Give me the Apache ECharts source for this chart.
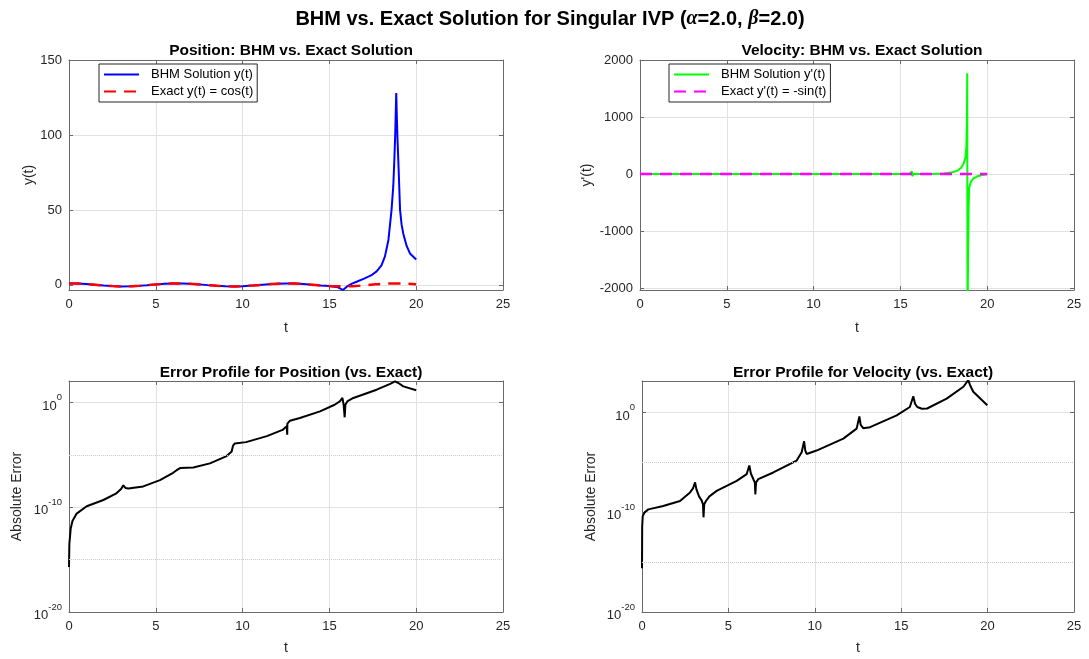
<!DOCTYPE html>
<html>
<head>
<meta charset="utf-8">
<title>BHM vs. Exact Solution</title>
<script src="https://cdn.jsdelivr.net/npm/echarts@6/dist/echarts.min.js"></script>
<style>
  html, body { margin: 0; padding: 0; background: #fff; }
  #chart { width: 1089px; height: 659px; }
</style>
</head>
<body>
<div id="chart"></div>
<script>
// exact solution sampled on a coarse grid
const tExact = [0, 0.5, 1, 1.5, 2, 2.5, 3, 3.5, 4, 4.5, 5, 5.5, 6, 6.5, 7, 7.5, 8, 8.5, 9, 9.5, 10,
  10.5, 11, 11.5, 12, 12.5, 13, 13.5, 14, 14.5, 15, 15.5, 16, 16.5, 17, 17.5, 18, 18.5, 19, 19.5, 20]
const yExact = [1.00, 0.88, 0.54, 0.07, -0.42, -0.80, -0.99, -0.94, -0.65, -0.21, 0.28, 0.71, 0.96, 0.98,
  0.75, 0.35, -0.15, -0.60, -0.91, -1.00, -0.84, -0.48, 0.00, 0.48, 0.84, 1.00, 0.91, 0.59, 0.14, -0.36,
  -0.76, -0.98, -0.96, -0.70, -0.28, 0.22, 0.66, 0.95, 0.99, 0.77, 0.41]
const dyExact = [0.00, -0.48, -0.84, -1.00, -0.91, -0.60, -0.14, 0.35, 0.76, 0.98, 0.96, 0.71, 0.28, -0.22,
  -0.66, -0.94, -0.99, -0.80, -0.41, 0.08, 0.54, 0.88, 1.00, 0.88, 0.54, 0.07, -0.42, -0.80, -0.99, -0.93,
  -0.65, -0.20, 0.29, 0.71, 0.96, 0.98, 0.75, 0.34, -0.15, -0.60, -0.91]

// BHM position
const tPosBhm = [0, 0.5, 1, 1.5, 2, 2.5, 3, 3.5, 4, 4.5, 5, 5.5, 6, 6.5, 7, 7.5, 8, 8.5, 9, 9.5, 10,
  10.5, 11, 11.5, 12, 12.5, 13, 13.5, 14, 14.5, 15, 15.5, 15.78, 16.0, 16.3, 16.6, 17.0, 17.4, 17.72,
  18.0, 18.2, 18.4, 18.58, 18.68, 18.74, 18.79, 18.82, 18.85, 18.88, 18.92, 18.97, 19.07, 19.16,
  19.26, 19.45, 19.64, 19.82, 20]
const yPosBhm = [1.00, 0.88, 0.54, 0.07, -0.42, -0.80, -0.99, -0.94, -0.65, -0.21, 0.28, 0.71, 0.96, 0.98,
  0.75, 0.35, -0.15, -0.60, -0.91, -1.00, -0.84, -0.48, 0.00, 0.48, 0.84, 1.00, 0.91, 0.59, 0.14, -0.36,
  -0.76, -1.6, -3.4, -1.2, 0.9, 2.3, 4.2, 6.3, 9, 13, 19, 30, 50, 66, 83, 100, 114, 128, 114, 98, 83, 50,
  40, 34, 26, 21, 19, 17]

// BHM velocity
const tVelBhm = [0, 0.5, 1, 1.5, 2, 2.5, 3, 3.5, 4, 4.5, 5, 5.5, 6, 6.5, 7, 7.5, 8, 8.5, 9, 9.5, 10,
  10.5, 11, 11.5, 12, 12.5, 13, 13.5, 14, 14.5, 15, 15.5, 15.66, 15.7, 15.74, 16, 16.5, 17, 17.5, 18,
  18.3, 18.5, 18.65, 18.75, 18.8, 18.83, 18.85, 18.865, 18.9, 18.93, 18.96, 19.05, 19.2, 19.4, 19.6, 19.8, 20]
const yVelBhm = [0.00, -0.48, -0.84, -1.00, -0.91, -0.60, -0.14, 0.35, 0.76, 0.98, 0.96, 0.71, 0.28, -0.22,
  -0.66, -0.94, -0.99, -0.80, -0.41, 0.08, 0.54, 0.88, 1.00, 0.88, 0.54, 0.07, -0.42, -0.80, -0.99, -0.93,
  -0.65, -0.20, 45, -40, 0, 0.3, 1.5, 4, 10, 30, 60, 110, 190, 300, 480, 900, 1767, -2600, -1400, -600,
  -250, -140, -80, -45, -25, -12, -5]

// absolute errors, log10 of the value
const tErrPos = [0, 0.02, 0.1, 0.2, 0.44, 1.02, 1.98, 2.7, 3.0, 3.13, 3.25, 3.42, 4.28, 5.24, 6.0, 6.2,
  6.3, 6.4, 7.16, 8.12, 9.08, 9.37, 9.45, 9.55, 10.2, 11.4, 12.3, 12.54, 12.57, 12.58, 12.6, 12.73, 13.3,
  14.46, 15.3, 15.6, 15.75, 15.82, 15.88, 15.92, 16.05, 16.38, 17.72, 18.5, 18.78, 18.85, 18.95, 19.26, 20]
const errPosLog = [-15.7, -13.5, -12.0, -11.3, -10.6, -9.9, -9.3, -8.7, -8.25, -7.9, -8.15, -8.2, -8.0,
  -7.4, -6.7, -6.45, -6.3, -6.25, -6.2, -5.8, -5.1, -4.66, -4.1, -3.9, -3.77, -3.2, -2.6, -2.25, -3.06,
  -2.0, -1.85, -1.72, -1.47, -0.83, -0.2, 0.13, 0.45, -0.2, -1.4, -0.2, 0.15, 0.45, 1.24, 1.8, 2.04, 2.1,
  1.9, 1.56, 1.18]
const tErrVel = [0, 0.01, 0.04, 0.15, 0.37, 1.23, 2.2, 2.78, 2.95, 3.07, 3.15, 3.3, 3.45, 3.53, 3.56, 3.6,
  3.7, 3.9, 4.32, 5.48, 6.06, 6.21, 6.3, 6.45, 6.53, 6.56, 6.6, 6.73, 7.6, 8.95, 9.24, 9.38, 9.45, 9.53,
  10.1, 11.65, 12.42, 12.58, 12.65, 12.8, 13.2, 14.74, 15.5, 15.7, 15.8, 15.93, 16.2, 16.5, 17.63, 18.6,
  18.88, 19.0, 19.17, 19.98]
const errVelLog = [-15.6, -11.5, -10.4, -10.0, -9.7, -9.36, -8.86, -8.0, -7.6, -7.0, -7.7, -8.4, -8.8,
  -9.2, -10.5, -9.2, -8.86, -8.4, -7.85, -6.84, -6.16, -5.3, -6.1, -6.7, -7.0, -8.2, -7.0, -6.67, -6.0,
  -4.8, -3.97, -2.86, -3.8, -4.14, -3.8, -2.6, -1.6, -0.37, -1.2, -1.55, -1.45, -0.27, 0.57, 1.65, 0.9,
  0.57, 0.4, 0.42, 1.41, 2.6, 3.27, 2.7, 2.1, 0.74]

// tick labels
const xTicks = [0, 5, 10, 15, 20, 25]
const posTicks = [0, 50, 100, 150]
const velTicks = [-2000, -1000, 0, 1000, 2000]
const logTicks = [-20, -10, 0]

const FONT = 'Liberation Sans, Arial, sans-serif'
const TXT = '#262626'
const BOX = '#6a6a6a'
const GRIDC = '#e2e2e2'

const zip = (xs, ys) => xs.map((x, i) => [x, ys[i]])

const grids = [
  { left: 69, top: 60, width: 434, height: 230 },
  { left: 640, top: 60, width: 434, height: 230 },
  { left: 69, top: 381, width: 434, height: 231 },
  { left: 642, top: 381, width: 432, height: 231 }
]

function xAxisOf(gi, top) {
  return {
    type: 'value',
    gridIndex: gi,
    position: top ? 'top' : 'bottom',
    min: xTicks[0],
    max: xTicks[xTicks.length - 1],
    interval: 5,
    name: top ? '' : 't',
    nameLocation: 'middle',
    nameGap: gi < 2 ? 31 : 29,
    nameTextStyle: { fontSize: 14, color: TXT, fontFamily: FONT },
    axisLine: { show: true, onZero: false, lineStyle: { color: BOX, width: 1 } },
    axisTick: { show: true, inside: true, length: 4, lineStyle: { color: BOX } },
    axisLabel: { show: !top, fontSize: 13, color: TXT, fontFamily: FONT, margin: 8 },
    splitLine: { show: !top, lineStyle: { color: GRIDC, width: 1 } }
  }
}

function yAxisOf(gi, right, cfg) {
  return {
    type: 'value',
    gridIndex: gi,
    position: right ? 'right' : 'left',
    min: cfg.min,
    max: cfg.max,
    name: right ? '' : cfg.name,
    nameLocation: 'middle',
    nameGap: cfg.gap,
    nameTextStyle: { fontSize: 14, color: TXT, fontFamily: FONT },
    axisLine: { show: true, onZero: false, lineStyle: { color: BOX, width: 1 } },
    axisTick: { show: true, inside: true, length: 4, customValues: cfg.ticks, lineStyle: { color: BOX } },
    axisLabel: {
      show: !right,
      customValues: cfg.ticks,
      fontSize: 13,
      color: TXT,
      fontFamily: FONT,
      margin: 7,
      formatter: cfg.log ? v => '{b|10}{e|' + v + '}' : v => String(v),
      rich: cfg.log ? {
        b: { fontSize: 13, color: TXT, fontFamily: FONT, verticalAlign: 'bottom', lineHeight: 20 },
        e: { fontSize: 9.5, color: TXT, fontFamily: FONT, verticalAlign: 'top', lineHeight: 20 }
      } : undefined
    },
    splitLine: { show: !right, lineStyle: { color: GRIDC, width: 1 } }
  }
}

const yCfg = [
  { min: -3.4, max: 150, ticks: posTicks, name: 'y(t)', gap: 32 },
  { min: -2035, max: 2000, ticks: velTicks, name: "y'(t)", gap: 46 },
  { min: -20, max: 2.07, ticks: logTicks, name: 'Absolute Error', gap: 45, log: true },
  { min: -20, max: 3.18, ticks: logTicks, name: 'Absolute Error', gap: 44, log: true }
]

const xAxis = [0, 1, 2, 3].map(i => xAxisOf(i, false)).concat([0, 1, 2, 3].map(i => xAxisOf(i, true)))
const yAxis = [0, 1, 2, 3].map(i => yAxisOf(i, false, yCfg[i])).concat([0, 1, 2, 3].map(i => yAxisOf(i, true, yCfg[i])))

// dotted minor grid of the log axes
const minorGrid = {
  silent: true,
  symbol: 'none',
  label: { show: false },
  lineStyle: { type: 'dotted', color: '#cccccc', width: 1 },
  data: [{ yAxis: -5 }, { yAxis: -15 }]
}

const subTitle = (text, x, y) => ({
  text,
  left: x,
  top: y,
  textAlign: 'center',
  textStyle: { fontSize: 15.5, fontWeight: 'bold', color: '#000', fontFamily: FONT }
})

const legendOf = (names, left) => ({
  orient: 'vertical',
  left,
  top: 64,
  data: names,
  itemWidth: 35,
  itemHeight: 12,
  itemGap: 4,
  padding: [4, 4, 4, 4],
  borderColor: '#262626',
  borderWidth: 1,
  backgroundColor: '#fff',
  itemStyle: { opacity: 0 },
  textStyle: { fontSize: 13, color: '#000', fontFamily: FONT, padding: [0, 0, 0, 7] }
})

const myChart = echarts.init(document.getElementById('chart'), null, { renderer: 'canvas' })

const option = {
  animation: false,
  backgroundColor: '#fff',
  title: [
    {
      text: '{n|BHM vs. Exact Solution for Singular IVP (}{g|α}{n|=2.0, }{g|β}{n|=2.0)}',
      left: 545,
      top: 4,
      textAlign: 'center',
      textStyle: {
        rich: {
          n: { fontSize: 20, fontWeight: 'bold', color: '#000', fontFamily: FONT },
          g: { fontSize: 20, fontStyle: 'italic', color: '#000', fontFamily: 'Liberation Serif, serif' }
        }
      }
    },
    subTitle('Position: BHM vs. Exact Solution', 286, 38),
    subTitle('Velocity: BHM vs. Exact Solution', 857, 38),
    subTitle('Error Profile for Position (vs. Exact)', 286, 360),
    subTitle('Error Profile for Velocity (vs. Exact)', 858, 360)
  ],
  legend: [
    legendOf(['BHM Solution y(t)', 'Exact y(t) = cos(t)'], 99),
    legendOf(["BHM Solution y'(t)", "Exact y'(t) = -sin(t)"], 669)
  ],
  grid: grids,
  xAxis,
  yAxis,
  series: [
    {
      name: 'BHM Solution y(t)',
      type: 'line',
      xAxisIndex: 0,
      yAxisIndex: 0,
      symbol: 'none',
      clip: true,
      lineStyle: { color: '#0000ff', width: 2 },
      itemStyle: { color: '#0000ff' },
      data: zip(tPosBhm, yPosBhm)
    },
    {
      name: 'Exact y(t) = cos(t)',
      type: 'line',
      xAxisIndex: 0,
      yAxisIndex: 0,
      symbol: 'none',
      smooth: true,
      lineStyle: { color: '#ff0000', width: 2.5, type: [12, 8] },
      itemStyle: { color: '#ff0000' },
      data: zip(tExact, yExact)
    },
    {
      name: "BHM Solution y'(t)",
      type: 'line',
      xAxisIndex: 1,
      yAxisIndex: 1,
      symbol: 'none',
      clip: true,
      lineStyle: { color: '#00ff00', width: 2 },
      itemStyle: { color: '#00ff00' },
      data: zip(tVelBhm, yVelBhm)
    },
    {
      name: "Exact y'(t) = -sin(t)",
      type: 'line',
      xAxisIndex: 1,
      yAxisIndex: 1,
      symbol: 'none',
      lineStyle: { color: '#ff00ff', width: 2.5, type: [12, 8] },
      itemStyle: { color: '#ff00ff' },
      data: zip(tExact, dyExact)
    },
    {
      name: 'err-pos',
      type: 'line',
      xAxisIndex: 2,
      yAxisIndex: 2,
      symbol: 'none',
      lineStyle: { color: '#000', width: 2 },
      markLine: minorGrid,
      data: zip(tErrPos, errPosLog)
    },
    {
      name: 'err-vel',
      type: 'line',
      xAxisIndex: 3,
      yAxisIndex: 3,
      symbol: 'none',
      lineStyle: { color: '#000', width: 2 },
      markLine: minorGrid,
      data: zip(tErrVel, errVelLog)
    }
  ]
}

myChart.setOption(option)
</script>
</body>
</html>
